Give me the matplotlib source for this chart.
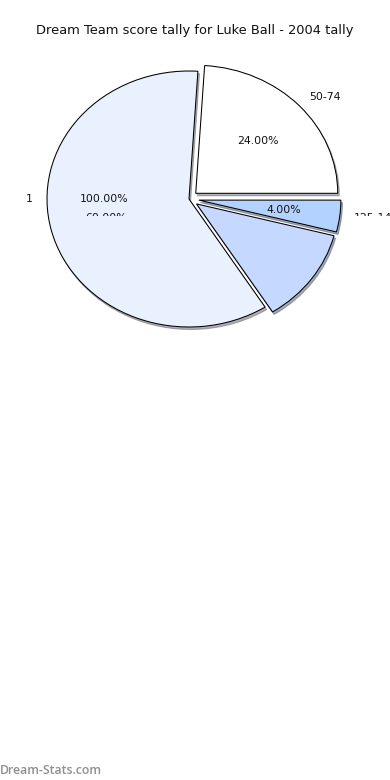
import matplotlib
matplotlib.use("Agg")
import matplotlib.pyplot as plt
from matplotlib.transforms import Bbox, TransformedBbox

title = "Dream Team score tally for Luke Ball - 2004 tally"
labels = ["50-74", "75-99", "100-124", "125-149"]
counts = [6, 15, 3, 1]
colors = ["#ffffff", "#eaf1fe", "#c5d8ff", "#b4d2ff"]
explode = [0.065, 0.0, 0.065, 0.07]
extra_labels = ["1"]
extra_counts = [1]

W, H = 390, 780
fig = plt.figure(figsize=(W / 100, H / 100), dpi=100)
cx, cy, rx, ry = 189, 199, 142, 128
ax = fig.add_axes([(cx - rx) / W, (H - cy - ry) / H, 2 * rx / W, 2 * ry / H])

wedges, texts, autotexts = ax.pie(
    counts, labels=labels, colors=colors, explode=explode,
    autopct="%.2f%%", startangle=0, counterclock=True,
    labeldistance=1.1, pctdistance=0.6,
    wedgeprops={"edgecolor": "black", "linewidth": 0.75},
    shadow={"ox": 0.008, "oy": -0.014, "shade": 0.6},
    textprops={"fontsize": 7.8, "color": "#111111"})

w2, t2, a2 = ax.pie(
    extra_counts, labels=extra_labels, autopct="%.2f%%", startangle=0,
    labeldistance=1.1, pctdistance=0.6,
    wedgeprops={"visible": False},
    textprops={"fontsize": 7.8, "color": "#111111"})

ax.set_aspect("auto")
ax.set_xlim(-1, 1)
ax.set_ylim(-1, 1)
ax.axis("off")
for p in ax.patches:
    p.set_clip_on(False)

clip = TransformedBbox(Bbox([[0, 1 - 216 / H], [1, 1]]), fig.transFigure)
for t in list(texts) + list(autotexts) + list(t2) + list(a2):
    t.set_clip_on(True)
    t.set_clip_box(clip)

fig.text(0.5, 1 - 30.5 / H, title, ha="center", va="center", fontsize=9.4, color="#111111")
fig.text(0.0, 1 - 770 / H, "Dream-Stats.com", ha="left", va="center",
         fontsize=8.8, color="#8f8f8f", family="Open Sans", weight="semibold")

fig.savefig("out.png", dpi=100)
